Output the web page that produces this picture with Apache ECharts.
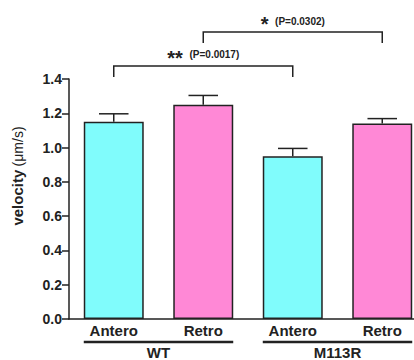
<!DOCTYPE html>
<html>
<head>
<meta charset="utf-8">
<script src="https://cdn.jsdelivr.net/npm/echarts@6/dist/echarts.min.js"></script>
<style>
  html, body { margin: 0; padding: 0; background: #fff; }
  #chart { width: 414px; height: 360px; }
</style>
</head>
<body>
<div id="chart"></div>
<script>
// data
var categories = ['Antero', 'Retro', 'Antero', 'Retro'];
var groupNames = ['WT', 'M113R'];
var groupStart = [0, 2];
var groupEnd = [1, 3];
var means = [1.15, 1.25, 0.95, 1.14];
var sems = [0.047, 0.054, 0.045, 0.029];
var yTicks = [0, 0.2, 0.4, 0.6, 0.8, 1.0, 1.2, 1.4];
// significance brackets: from bar, to bar, leg bottom, bracket top
var sigFrom = [0, 1];
var sigTo = [2, 3];
var sigLow = [1.412, 1.61];
var sigHigh = [1.476, 1.674];
var sigStars = ['**', '*'];
var sigP = ['(P=0.0017)', '(P=0.0302)'];

var barColors = ['#80fcfc', '#ff88d6', '#80fcfc', '#ff88d6'];
var ink = '#222';
var font = 'Liberation Sans, Arial, sans-serif';
var barFrac = 0.67;

var chart = echarts.init(document.getElementById('chart'), null, {renderer: 'svg'});

chart.setOption({
  animation: false,
  grid: {left: 69, top: 79, bottom: 41, width: 358, containLabel: false, outerBoundsMode: 'none'},
  xAxis: {
    type: 'category',
    data: categories,
    axisLine: {lineStyle: {color: ink, width: 1.5}},
    axisTick: {show: false},
    axisLabel: {color: ink, fontSize: 15, fontWeight: 'bold', fontFamily: font, margin: 4}
  },
  yAxis: {
    type: 'value',
    min: yTicks[0],
    max: yTicks[yTicks.length - 1],
    interval: 0.2,
    splitLine: {show: false},
    axisLine: {show: true, lineStyle: {color: ink, width: 1.5}},
    axisTick: {show: true, length: 7, lineStyle: {color: ink, width: 1.5}},
    axisLabel: {
      color: ink, fontSize: 14, fontWeight: 'bold', fontFamily: font, margin: 7,
      formatter: function (v) { return v.toFixed(1); }
    },
    name: '{a|velocity} {b|(μm/s)}',
    nameLocation: 'middle',
    nameGap: 44,
    nameTextStyle: {
      padding: [0, 0, 0, 46],
      rich: {
        a: {fontSize: 15, fontWeight: 'bold', color: ink, fontFamily: font},
        b: {fontSize: 14, color: ink, fontFamily: font}
      }
    }
  },
  series: [
    {
      type: 'bar',
      barWidth: (barFrac * 100) + '%',
      data: means.map(function (m, i) {
        return {value: m, itemStyle: {color: barColors[i]}};
      }),
      itemStyle: {borderColor: ink, borderWidth: 1.5}
    },
    {
      // error bars (upper only)
      type: 'custom',
      z: 3,
      data: means.map(function (m, i) { return [i, m, m + sems[i]]; }),
      encode: {x: 0, y: [1, 2]},
      renderItem: function (params, api) {
        var base = api.coord([api.value(0), api.value(1)]);
        var top = api.coord([api.value(0), api.value(2)]);
        var half = api.size([1, 0])[0] * 0.165;
        var st = {stroke: ink, lineWidth: 1.5};
        return {
          type: 'group',
          children: [
            {type: 'line', shape: {x1: base[0], y1: base[1], x2: top[0], y2: top[1]}, style: st},
            {type: 'line', shape: {x1: top[0] - half, y1: top[1], x2: top[0] + half, y2: top[1]}, style: st}
          ]
        };
      }
    },
    {
      // significance brackets
      type: 'custom',
      clip: false,
      data: sigFrom.map(function (f, i) { return [f, sigTo[i], sigLow[i], sigHigh[i], i]; }),
      encode: {x: [0, 1], y: [2, 3]},
      renderItem: function (params, api) {
        var i = api.value(4);
        var a = api.coord([api.value(0), api.value(3)]);
        var b = api.coord([api.value(1), api.value(3)]);
        var low = api.coord([api.value(0), api.value(2)])[1];
        var st = {stroke: ink, lineWidth: 1.5, fill: null};
        return {
          type: 'group',
          children: [
            {type: 'polyline', shape: {points: [[a[0], low], [a[0], a[1]], [b[0], b[1]], [b[0], low]]}, style: st},
            {
              type: 'text',
              x: (a[0] + b[0]) / 2,
              y: a[1] - 11,
              style: {
                text: '{s|' + sigStars[i] + '}  {p|' + sigP[i] + '}',
                align: 'center',
                verticalAlign: 'middle',
                rich: {
                  s: {fontSize: 20, fontWeight: 'bold', fill: ink, fontFamily: font, padding: [6, 0, 0, 0]},
                  p: {fontSize: 10, fontWeight: 'bold', fill: ink, fontFamily: font}
                }
              }
            }
          ]
        };
      }
    },
    {
      // group underlines and names
      type: 'custom',
      clip: false,
      silent: true,
      data: groupStart.map(function (s, i) { return [s, groupEnd[i], 0, i]; }),
      encode: {x: [0, 1], y: 2},
      renderItem: function (params, api) {
        var i = api.value(3);
        var a = api.coord([api.value(0), 0]);
        var b = api.coord([api.value(1), 0]);
        var half = api.size([1, 0])[0] * barFrac / 2;
        var y = a[1] + 23;
        return {
          type: 'group',
          children: [
            {type: 'line', shape: {x1: a[0] - half, y1: y, x2: b[0] + half, y2: y}, style: {stroke: ink, lineWidth: 2.5}},
            {
              type: 'text',
              x: (a[0] + b[0]) / 2,
              y: y + 10,
              style: {
                text: groupNames[i], align: 'center', verticalAlign: 'middle',
                fontSize: 15, fontWeight: 'bold', fill: ink, fontFamily: font
              }
            }
          ]
        };
      }
    }
  ]
});
</script>
</body>
</html>
